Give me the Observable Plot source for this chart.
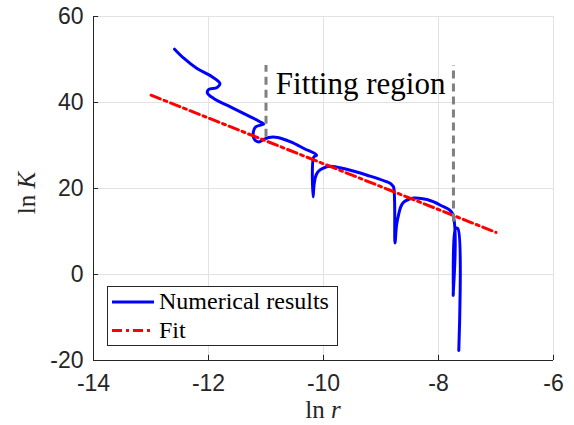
<!DOCTYPE html>
<html><head><meta charset="utf-8">
<script src="https://cdn.jsdelivr.net/npm/d3@7"></script>
<script src="https://cdn.jsdelivr.net/npm/@observablehq/plot@0.6"></script>
<style>body{margin:0;background:#fff;} #chart{width:574px;height:425px;} .serif{font-family:"Liberation Serif", serif !important;}</style>
</head><body><div id="chart"></div>
<script>
// Numerical results (ln r, ln K)
const numX = [-12.59,-12.43,-12.20,-11.94,-11.80,-11.85,-11.995,-12.02,-11.91,-11.62,-11.33,-11.07,-11.04,-11.18,-11.22,-11.20,-11.125,-11.04,-10.95,-10.80,-10.57,-10.34,-10.12,-10.17,-10.18,-10.165,-10.14,-10.10,-10.05,-9.965,-9.88,-9.65,-9.24,-8.835,-8.805,-8.78,-8.757,-8.73,-8.69,-8.652,-8.60,-8.513,-8.43,-8.20,-7.965,-7.762,-7.744,-7.704,-7.664,-7.647];
const numY = [52.4,50.3,47.9,46.0,44.4,43.5,43.05,42.25,40.95,39.0,37.06,35.27,34.97,34.34,33.17,31.4,30.84,31.4,31.87,31.87,30.84,29.31,27.75,27.3,18.03,20.76,22.69,23.79,24.42,24.95,25.18,24.65,23.09,21.16,20.76,20.3,7.32,11.44,14.17,15.87,16.87,17.5,17.8,17.43,16.1,14.31,-4.86,10.68,10.68,-17.67];
// Linear fit
const fitX = [-13, -7];
const fitY = [41.7, 9.8];
// Fitting region markers
const regionX = [-11.0, -7.74];
const regionYTop = [48.6, 48.6];
const regionYBottom = [31.9, 12.2];
const annotationText = ["Fitting region"];
const annotationX = [-10.83];
const annotationY = [44.4];
// Axes
const xTicks = [-14, -12, -10, -8, -6];
const yTicks = [-20, 0, 20, 40, 60];
const seriesNames = ["Numerical results", "Fit"];

const num = numX.map((x, i) => ({x, y: numY[i]}));
const fit = fitX.map((x, i) => ({x, y: fitY[i]}));
const region = regionX.map((x, i) => ({x, y1: regionYBottom[i], y2: regionYTop[i]}));
const ann = annotationText.map((t, i) => ({t, x: annotationX[i], y: annotationY[i]}));

const chart = Plot.plot({
  width: 574, height: 425,
  marginLeft: 93, marginRight: 21, marginTop: 16, marginBottom: 65,
  x: {domain: [-14, -6], label: null},
  y: {domain: [-20, 60], label: null},
  style: {background: "#fff", fontFamily: "Liberation Sans, Arial, sans-serif", overflow: "visible"},
  marks: [
    Plot.ruleX(xTicks, {stroke: "#e2e2e2", strokeWidth: 1}),
    Plot.ruleY(yTicks, {stroke: "#e2e2e2", strokeWidth: 1}),
    Plot.line(num, {x: "x", y: "y", stroke: "#0000ff", strokeWidth: 3, strokeLinejoin: "round", curve: "catmull-rom"}),
    Plot.line(fit, {x: "x", y: "y", stroke: "#ff0000", strokeWidth: 3, strokeDasharray: "10,4,3,4"}),
    Plot.ruleX(region, {x: "x", y1: "y1", y2: "y2", stroke: "#808080", strokeWidth: 3, strokeDasharray: "8,5"}),
    Plot.text(ann, {x: "x", y: "y", text: "t", textAnchor: "start", fontSize: 31, fontFamily: "Liberation Serif, serif", fill: "#000"}),
    Plot.ruleX([-14], {stroke: "#262626", strokeWidth: 1}),
    Plot.ruleY([-20], {stroke: "#262626", strokeWidth: 1}),
    Plot.ruleX(xTicks, {y1: -20, y2: -18.8, stroke: "#262626"}),
    Plot.ruleY(yTicks, {x1: -14, x2: -13.91, stroke: "#262626"}),
    Plot.axisX(xTicks, {tickSize: 0, tickPadding: 14, fontSize: 23, fill: "#262626", label: null, tickFormat: d => String(d)}),
    Plot.axisY(yTicks, {tickSize: 0, tickPadding: 10, fontSize: 23, fill: "#262626", label: null, tickFormat: d => String(d)})
  ]
});
document.getElementById("chart").appendChild(chart);

const svg = d3.select(chart);
// Axis labels
const xl = svg.append("text").attr("class", "serif").attr("x", 323).attr("y", 418).attr("text-anchor", "middle")
  .style("font-size", "25px").attr("fill", "#262626");
xl.append("tspan").text("ln ");
xl.append("tspan").attr("font-style", "italic").text("r");
const yl = svg.append("text").attr("class", "serif").attr("transform", "translate(35,193) rotate(-90)").attr("text-anchor", "middle")
  .style("font-size", "25px").attr("fill", "#262626");
yl.append("tspan").text("ln ");
yl.append("tspan").attr("font-style", "italic").text("K");
// Legend
const lg = svg.append("g");
lg.append("rect").attr("x", 107.5).attr("y", 286.5).attr("width", 230).attr("height", 59)
  .attr("fill", "#fff").attr("stroke", "#262626").attr("stroke-width", 1);
const legendStyles = [{stroke: "#0000ff", dash: null}, {stroke: "#ff0000", dash: "10,4,3,4"}];
seriesNames.forEach((name, i) => {
  const cy = 302 + i * 28.5;
  const ln = lg.append("line").attr("x1", 112).attr("x2", 154).attr("y1", cy).attr("y2", cy)
    .attr("stroke", legendStyles[i].stroke).attr("stroke-width", 3);
  if (legendStyles[i].dash) ln.attr("stroke-dasharray", legendStyles[i].dash);
  lg.append("text").attr("class", "serif").attr("x", 159).attr("y", cy + 7).attr("text-anchor", "start")
    .style("font-size", "24px").attr("fill", "#000").text(name);
});
</script>
</body></html>
